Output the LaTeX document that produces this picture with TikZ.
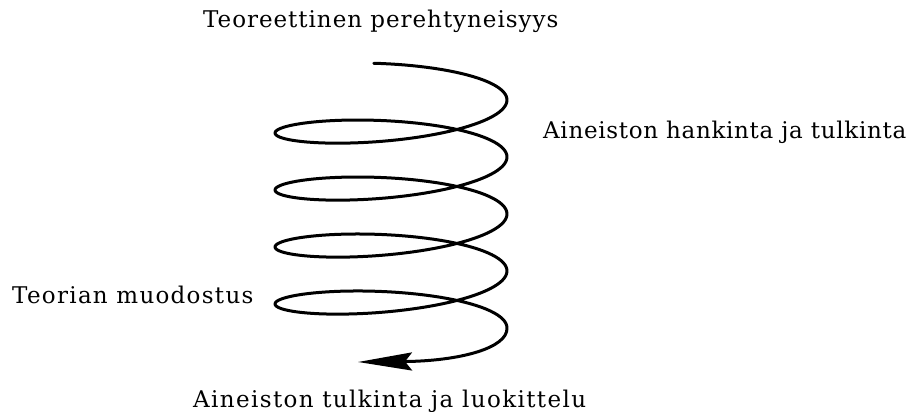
\documentclass[tikz,border=0pt]{standalone}
\usepackage{fontspec}
\setmainfont{DejaVu Serif}
\usetikzlibrary{arrows.meta}
\newcommand{\lspace}[1]{\addfontfeature{LetterSpace=#1}}
\tikzset{
  lbl/.style={anchor=base west, inner sep=0pt, font=\fontsize{23}{26}\selectfont},
  spiral/.style={line width=3pt, line cap=round, line join=round, black}
}
\begin{document}
\begin{tikzpicture}[x=1pt,y=-1pt]
\useasboundingbox (0,0) rectangle (911,412);
\draw[spiral, -{Stealth[length=54pt,width=18pt,inset=7pt]}]
  plot[domain=-1.72:25.1327, samples=400, variable=\t]
    ({391+116*cos(\t r)}, {102.25+9.07*\t+24*sin(\t r)-2.25*cos(\t r)})
  .. controls (508,348) and (460,361) .. (358,362);
\node[lbl] (top) at (203,28) {\lspace{4.2}Teoreettinen perehtyneisyys};
\node[lbl] (right) at (543,138) {\lspace{3}Aineiston hankinta ja tulkinta};
\node[lbl] (left) at (12,303) {\lspace{5.6}Teorian muodostus};
\node[lbl] (bottom) at (193,407) {\lspace{6}Aineiston tulkinta ja luokittelu};
\end{tikzpicture}
\end{document}
